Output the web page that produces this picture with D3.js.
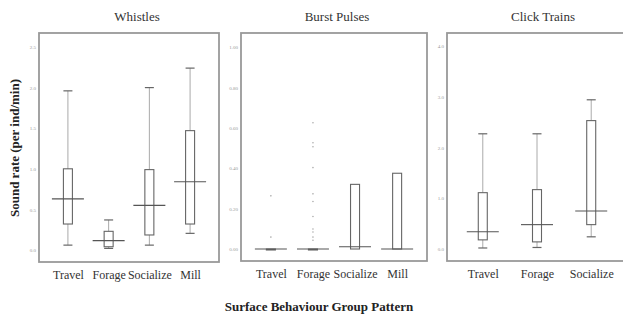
<!DOCTYPE html>
<html>
<head>
<meta charset="utf-8">
<script src="https://cdn.jsdelivr.net/npm/d3@7"></script>
<style>
  body { margin: 0; background: #fff; }
  svg { display: block; font-family: "Liberation Serif", "Times New Roman", serif; }
</style>
</head>
<body>
<div id="chart"></div>
<script>
// Whistles
const whistleCats = ["Travel", "Forage", "Socialize", "Mill"];
const whistleMin = [0.06, 0.02, 0.06, 0.205];
const whistleQ1 = [0.32, 0.04, 0.185, 0.32];
const whistleMed = [0.63, 0.115, 0.55, 0.84];
const whistleQ3 = [1.0, 0.23, 0.99, 1.47];
const whistleMax = [1.96, 0.37, 2.0, 2.24];
const whistleTicks = [0, 0.5, 1.0, 1.5, 2.0, 2.5];

// Burst Pulses
const burstCats = ["Travel", "Forage", "Socialize", "Mill"];
const burstMin = [0, 0, 0, 0];
const burstQ1 = [0, 0, 0, 0];
const burstMed = [0, 0, 0.011, 0];
const burstQ3 = [0, 0, 0.32, 0.375];
const burstMax = [0, 0, 0.32, 0.375];
const burstOutliers = [
  [0.263, 0.059],
  [0.625, 0.526, 0.506, 0.403, 0.273, 0.235, 0.161, 0.099, 0.084, 0.059, 0.043],
  [],
  []
];
const burstTicks = [0, 0.2, 0.4, 0.6, 0.8, 1.0];

// Click Trains
const clickCats = ["Travel", "Forage", "Socialize"];
const clickMin = [0.02, 0.03, 0.24];
const clickQ1 = [0.18, 0.14, 0.48];
const clickMed = [0.34, 0.48, 0.75];
const clickQ3 = [1.11, 1.17, 2.53];
const clickMax = [2.27, 2.27, 2.94];
const clickTicks = [0, 1, 2, 3, 4];

const W = 623, H = 320;
const svg = d3.select('#chart').append('svg')
  .attr('width', W).attr('height', H);

const panels = [
  { title: 'Whistles', cats: whistleCats, min: whistleMin, q1: whistleQ1, med: whistleMed, q3: whistleQ3, max: whistleMax,
    outliers: null, ticks: whistleTicks, fmt: d3.format('.1f'), domain: [0, 2.5],
    left: 39, right: 219, top: 33, bottom: 262, y0: 250, y1: 47, titleX: 137 },
  { title: 'Burst Pulses', cats: burstCats, min: burstMin, q1: burstQ1, med: burstMed, q3: burstQ3, max: burstMax,
    outliers: burstOutliers, ticks: burstTicks, fmt: d3.format('.2f'), domain: [0, 1],
    left: 241, right: 427, top: 33, bottom: 261, y0: 249, y1: 47, titleX: 337 },
  { title: 'Click Trains', cats: clickCats, min: clickMin, q1: clickQ1, med: clickMed, q3: clickQ3, max: clickMax,
    outliers: null, ticks: clickTicks, fmt: d3.format('.1f'), domain: [0, 4],
    left: 447, right: 627, top: 33, bottom: 261, y0: 249, y1: 46, titleX: 543, pad: 0.66 }
];

const frameColor = '#999';
const boxColor = '#666';
const whiskColor = '#aaa';
const boxW = 9, medW = 32;

panels.forEach(p => {
  const g = svg.append('g');

  const x = d3.scalePoint()
    .domain(p.cats)
    .range([p.left, p.right])
    .padding(p.pad || 0.71);

  const y = d3.scaleLinear()
    .domain(p.domain)
    .range([p.y0, p.y1]);

  // frame
  g.append('rect')
    .attr('x', p.left).attr('y', p.top)
    .attr('width', p.right - p.left).attr('height', p.bottom - p.top)
    .attr('fill', 'none')
    .attr('stroke', frameColor)
    .attr('stroke-width', 1.8);

  // title
  g.append('text')
    .attr('x', p.titleX).attr('y', 21)
    .attr('text-anchor', 'middle')
    .attr('font-size', 13)
    .attr('fill', '#333')
    .text(p.title);

  // y ticks (tiny labels)
  const yAxis = d3.axisLeft(y)
    .tickValues(p.ticks)
    .tickFormat(p.fmt)
    .tickSize(0)
    .tickPadding(3);
  const ya = g.append('g')
    .attr('transform', `translate(${p.left},0)`)
    .call(yAxis);
  ya.select('.domain').remove();
  ya.selectAll('text')
    .attr('font-family', '"Liberation Serif", serif')
    .attr('font-size', 5)
    .attr('fill', '#999');

  // x category labels
  const xAxis = d3.axisBottom(x).tickSize(0).tickPadding(0);
  const xa = g.append('g')
    .attr('transform', `translate(0,${p.bottom + 8})`)
    .call(xAxis);
  xa.select('.domain').remove();
  xa.selectAll('text')
    .attr('font-family', '"Liberation Serif", serif')
    .attr('font-size', 12)
    .attr('fill', '#333');

  const idx = d3.range(p.cats.length);

  // whiskers
  idx.forEach(i => {
    const cx = x(p.cats[i]);
    if (p.max[i] > p.q3[i]) {
      g.append('line').attr('x1', cx).attr('x2', cx)
        .attr('y1', y(p.q3[i])).attr('y2', y(p.max[i]))
        .attr('stroke', whiskColor).attr('stroke-width', 1);
      g.append('line').attr('x1', cx - boxW / 2).attr('x2', cx + boxW / 2)
        .attr('y1', y(p.max[i])).attr('y2', y(p.max[i]))
        .attr('stroke', boxColor).attr('stroke-width', 1.2);
    }
    if (p.min[i] < p.q1[i]) {
      g.append('line').attr('x1', cx).attr('x2', cx)
        .attr('y1', y(p.q1[i])).attr('y2', y(p.min[i]))
        .attr('stroke', whiskColor).attr('stroke-width', 1);
      g.append('line').attr('x1', cx - boxW / 2).attr('x2', cx + boxW / 2)
        .attr('y1', y(p.min[i])).attr('y2', y(p.min[i]))
        .attr('stroke', boxColor).attr('stroke-width', 1.2);
    }
  });

  // boxes
  g.selectAll('rect.box')
    .data(idx)
    .join('rect')
    .attr('class', 'box')
    .attr('x', i => x(p.cats[i]) - boxW / 2)
    .attr('y', i => y(p.q3[i]))
    .attr('width', boxW)
    .attr('height', i => Math.max(1, y(p.q1[i]) - y(p.q3[i])))
    .attr('fill', 'none')
    .attr('stroke', boxColor)
    .attr('stroke-width', 1.1);

  // medians
  g.selectAll('line.med')
    .data(idx)
    .join('line')
    .attr('class', 'med')
    .attr('x1', i => x(p.cats[i]) - medW / 2)
    .attr('x2', i => x(p.cats[i]) + medW / 2)
    .attr('y1', i => y(p.med[i]))
    .attr('y2', i => y(p.med[i]))
    .attr('stroke', '#555')
    .attr('stroke-width', 1.1);

  // outliers
  if (p.outliers) {
    idx.forEach(i => {
      g.selectAll(null)
        .data(p.outliers[i])
        .join('circle')
        .attr('cx', x(p.cats[i]))
        .attr('cy', d => y(d))
        .attr('r', 0.8)
        .attr('fill', '#aaa');
    });
  }
});

// axis titles
svg.append('text')
  .attr('transform', 'translate(19,148) rotate(-90)')
  .attr('text-anchor', 'middle')
  .attr('font-size', 13)
  .attr('font-weight', 'bold')
  .attr('fill', '#222')
  .text('Sound rate (per ind/min)');

svg.append('text')
  .attr('x', 319).attr('y', 311)
  .attr('text-anchor', 'middle')
  .attr('font-size', 13)
  .attr('font-weight', 'bold')
  .attr('fill', '#222')
  .text('Surface Behaviour Group Pattern');
</script>
</body>
</html>
